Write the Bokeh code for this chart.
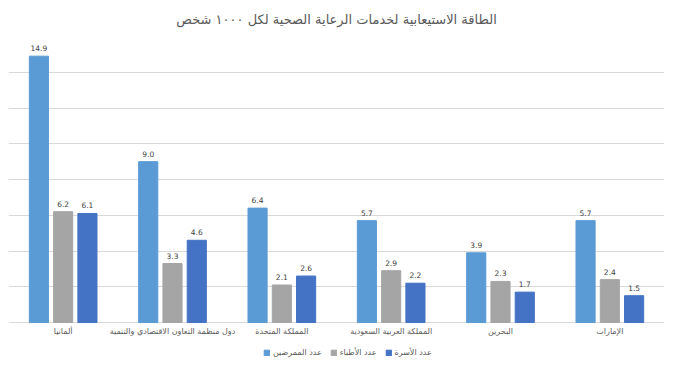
from bokeh.plotting import figure
from bokeh.models import ColumnDataSource, Range1d, FixedTicker, Legend, LegendItem, LabelSet
from bokeh.transform import dodge
from bokeh.core.properties import value
from bokeh.embed import file_html
from bokeh.resources import INLINE

categories = ["ألمانيا", "دول منظمة التعاون الاقتصادي والتنمية", "المملكة المتحدة",
              "المملكة العربية السعودية", "البحرين", "الإمارات"]
nurses = [14.9, 9.0, 6.4, 5.7, 3.9, 5.7]
doctors = [6.2, 3.3, 2.1, 2.9, 2.3, 2.4]
beds = [6.1, 4.6, 2.6, 2.2, 1.7, 1.5]
series_names = ["عدد الممرضين", "عدد الأطباء", "عدد الأسرة"]
colors = ["#5B9BD5", "#A5A5A5", "#4472C4"]
grid_ticks = [0, 2, 4, 6, 8, 10, 12, 14, 16]

src = ColumnDataSource(dict(
    cat=categories, nurses=nurses, doctors=doctors, beds=beds,
    zero=[0] * len(categories),
    nurses_l=[f"{v:.1f}" for v in nurses],
    doctors_l=[f"{v:.1f}" for v in doctors],
    beds_l=[f"{v:.1f}" for v in beds],
))

FONT = "DejaVu Sans"

# frame extends below zero to hold category labels and legend
p = figure(x_range=categories, y_range=Range1d(-2.18, 16), frame_width=656, frame_height=325,
           output_backend="svg", toolbar_location=None,
           min_border_left=8, min_border_right=0, min_border_top=0, min_border_bottom=0,
           title="الطاقة الاستيعابية لخدمات الرعاية الصحية لكل ١٠٠٠ شخص")
p.title.align = "center"
p.title.text_font_size = "13px"
p.title.text_font_style = "normal"
p.title.text_color = "#595959"
p.title.text_font = FONT
p.title.standoff = 19

p.outline_line_color = None
p.background_fill_color = "white"
p.border_fill_color = "white"

p.yaxis.visible = False
p.xaxis.visible = False
p.ygrid.ticker = FixedTicker(ticks=grid_ticks)
p.ygrid.grid_line_color = "#d9d9d9"
p.xgrid.grid_line_color = None

offsets = [-0.222, 0.0, 0.222]
fields = ["nurses", "doctors", "beds"]
renderers = []
for f, off, c in zip(fields, offsets, colors):
    r = p.vbar(x=dodge("cat", off, range=p.x_range), top=f, width=0.175, source=src,
               fill_color=c, line_color=c)
    renderers.append(r)
    lbl = LabelSet(x=dodge("cat", off, range=p.x_range), y=f, text=f + "_l", source=src,
                   text_align="center", text_baseline="bottom", y_offset=5,
                   text_font_size="7.5px", text_color="#404040", text_font=value(FONT))
    p.add_layout(lbl)

cat_labels = LabelSet(x="cat", y="zero", text="cat", source=src, y_offset=-9,
                      text_align="center", text_baseline="middle",
                      text_font_size="8px", text_color="#595959", text_font=value(FONT))
p.add_layout(cat_labels)

legend = Legend(items=[LegendItem(label=n, renderers=[r]) for n, r in zip(series_names, renderers)],
                orientation="horizontal", location=(255, 4),
                label_text_font_size="8px", label_text_color="#595959", label_text_font=FONT,
                glyph_width=7, glyph_height=7, label_standoff=3, spacing=8, label_height=8,
                padding=0, margin=0, border_line_color=None, background_fill_alpha=0)
p.add_layout(legend, "center")

open("out.html", "w").write(file_html(p, INLINE))
